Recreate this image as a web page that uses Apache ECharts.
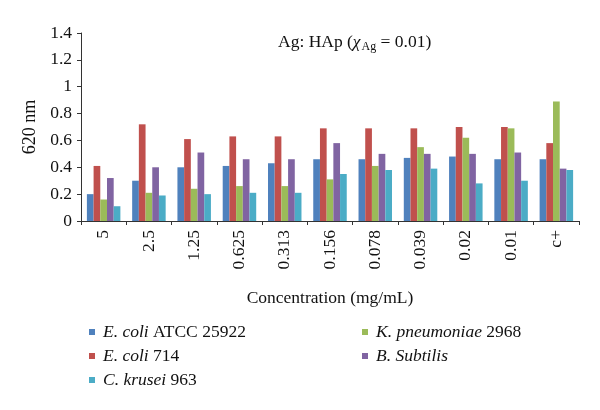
<!DOCTYPE html>
<html><head><meta charset="utf-8">
<script src="https://cdn.jsdelivr.net/npm/echarts@6/dist/echarts.min.js"></script>
<style>html,body{margin:0;padding:0;background:#fff}#c{width:600px;height:410px}</style>
</head><body><div id="c"></div>
<script>
const categories = ['5','2.5','1.25','0.625','0.313','0.156','0.078','0.039','0.02','0.01','c+'];
const ecoliATCC = [0.20,0.30,0.40,0.41,0.43,0.46,0.46,0.47,0.48,0.46,0.46];
const ecoli714  = [0.41,0.72,0.61,0.63,0.63,0.69,0.69,0.69,0.70,0.70,0.58];
const kpneum    = [0.16,0.21,0.24,0.26,0.26,0.31,0.41,0.55,0.62,0.69,0.89];
const bsubtilis = [0.32,0.40,0.51,0.46,0.46,0.58,0.50,0.50,0.50,0.51,0.39];
const ckrusei   = [0.11,0.19,0.20,0.21,0.21,0.35,0.38,0.39,0.28,0.30,0.38];
const yTicks = [0,0.2,0.4,0.6,0.8,1,1.2,1.4];

const F = '"Liberation Serif","DejaVu Serif",serif';
const names = ['E. coli ATCC 25922','E. coli 714','K. pneumoniae 2968','B. Subtilis','C. krusei 963'];
const colors = ['#4F81BD','#C0504D','#9BBB59','#8064A2','#4BACC6'];
const data = [ecoliATCC, ecoli714, kpneum, bsubtilis, ckrusei];
const italicPart = {'E. coli ATCC 25922':['E. coli',' ATCC 25922'],'E. coli 714':['E. coli',' 714'],'K. pneumoniae 2968':['K. pneumoniae',' 2968'],'B. Subtilis':['B. Subtilis',''],'C. krusei 963':['C. krusei',' 963']};

const chart = echarts.init(document.getElementById('c'));
const FS = 17.5;
const legendCommon = {
  orient:'vertical', itemWidth:6, itemHeight:6, icon:'rect', itemGap:6,
  textStyle:{fontFamily:F, fontSize:FS, color:'#111', rich:{i:{fontStyle:'italic', fontFamily:F, fontSize:FS, color:'#111', padding:[0,0,0,3]}, n:{fontFamily:F, fontSize:FS, color:'#111'}}},
  formatter: function(n){ const p = italicPart[n]; return '{i|'+p[0]+'}{n|'+p[1]+'}'; }
};
chart.setOption({
  animation:false,
  title:{text:'Ag: HAp ({i|χ}{s|Ag} = 0.01)', left:273, top:27,
    textStyle:{fontFamily:F, fontSize:FS, fontWeight:'normal', color:'#111',
      rich:{i:{fontFamily:F, fontSize:FS, fontStyle:'italic', color:'#111'}, s:{fontFamily:F, fontSize:12, color:'#111', verticalAlign:'bottom', padding:[9,0,0,1]}}}},
  legend:[
    Object.assign({data:[names[0],names[1],names[4]], left:84, top:318}, legendCommon),
    Object.assign({data:[names[2],names[3]], left:357, top:318}, legendCommon)
  ],
  grid:{left:81, right:21, top:33, bottom:189},
  xAxis:{type:'category', data:categories, name:'Concentration (mg/mL)', nameLocation:'middle', nameGap:68,
    nameTextStyle:{fontFamily:F, fontSize:FS, color:'#111'},
    axisLine:{lineStyle:{color:'#333', width:1}}, axisTick:{show:true, length:4, lineStyle:{color:'#333'}},
    axisLabel:{rotate:90, fontFamily:F, fontSize:FS, color:'#111', margin:9}},
  yAxis:{type:'value', min:0, max:1.4, interval:0.2, name:'620 nm', nameLocation:'middle', nameGap:41,
    nameTextStyle:{fontFamily:F, fontSize:18, color:'#111'},
    splitLine:{show:false},
    axisLine:{show:true, lineStyle:{color:'#333', width:1}}, axisTick:{show:true, length:4, lineStyle:{color:'#333'}},
    axisLabel:{fontFamily:F, fontSize:FS, color:'#111', margin:9, formatter:function(v){ const t = yTicks.find(x=>Math.abs(x-v)<1e-9); return t===undefined? '' : String(t);} }},
  series: names.map((n,i)=>({name:n, type:'bar', data:data[i], itemStyle:{color:colors[i]}, barGap:'0%', barCategoryGap:'26%'}))
});
</script></body></html>
